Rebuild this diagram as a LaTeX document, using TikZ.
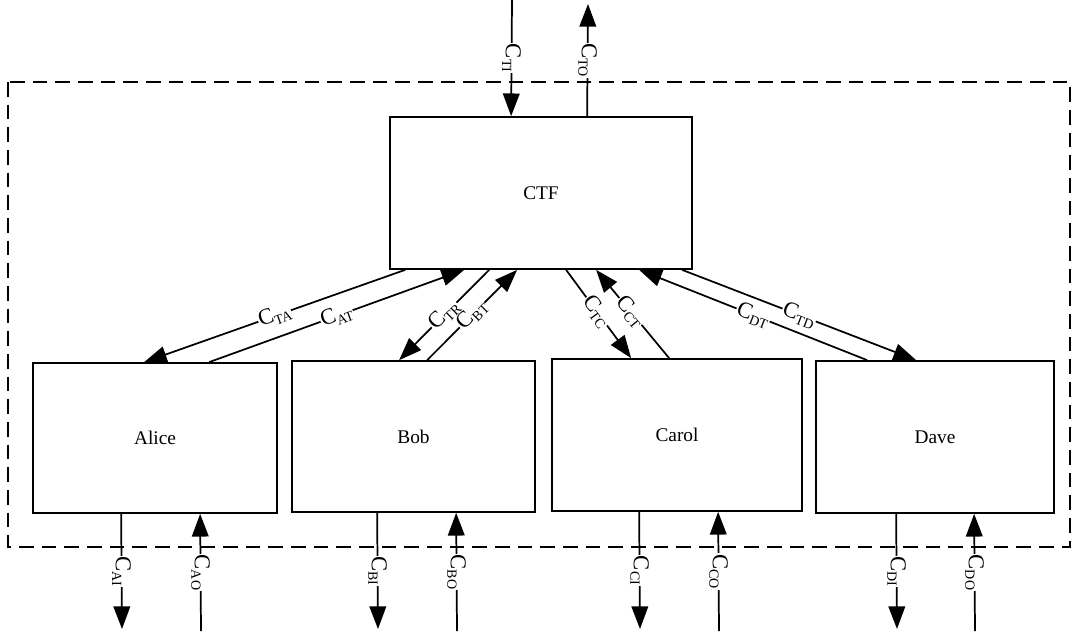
\documentclass[tikz,border=0pt]{standalone}
\usepackage{fontspec}
\setmainfont{Liberation Serif}
\usetikzlibrary{arrows.meta,calc}
\newcommand\clab[1]{C\raisebox{-0.35ex}{\fontsize{10.5}{10.5}\selectfont #1}}
\tikzset{
  box/.style={draw, line width=1.3pt, rectangle, inner sep=0pt, font=\fontsize{14.5}{16}\selectfont},
  conn/.style={line width=1.3pt, -{Triangle[length=17pt,width=12.5pt]}},
  lbl/.style={fill=white, inner sep=0.6pt, font=\fontsize{17}{17}\selectfont},
  vlbl/.style={lbl, rotate=-90},
}
\begin{document}
\begin{tikzpicture}[x=0.75pt,y=-0.75pt]
\useasboundingbox (0,0) rectangle (1075,637);
% frame
\draw[line width=1.2pt, dash pattern=on 11pt off 6pt] (8,82) rectangle (1070,547);
% boxes
\node[box, minimum width=226.5pt, minimum height=114pt] (ctf) at (541,193) {CTF};
\node[box, minimum width=183pt, minimum height=112.5pt] (alice) at (155,438) {Alice};
\node[box, minimum width=182.25pt, minimum height=113.25pt] (bob) at (413.5,436.5) {Bob};
\node[box, minimum width=187.5pt, minimum height=114pt] (carol) at (677,435) {Carol};
\node[box, minimum width=178.5pt, minimum height=114pt] (dave) at (935,437) {Dave};
% top external
\coordinate (tiS) at (512,0);
\coordinate (toE) at (588,4);
\draw[conn] (tiS) -- node[vlbl]{\clab{TI}} ($(ctf.north west)+(122,0)$);
\draw[conn] ($(ctf.north west)+(198,0)$) -- node[vlbl]{\clab{TO}} (toE);
% bottom external
\coordinate (aiE) at (122,629);
\coordinate (aoS) at (201,631);
\coordinate (biE) at (378,629);
\coordinate (boS) at (457,631);
\coordinate (ciE) at (640,629);
\coordinate (coS) at (719,631);
\coordinate (diE) at (897,629);
\coordinate (doS) at (975,631);
\draw[conn] ($(alice.south west)+(89,0)$) -- node[vlbl]{\clab{AI}} (aiE);
\draw[conn] (aoS) -- node[vlbl]{\clab{AO}} ($(alice.south west)+(168,0)$);
\draw[conn] ($(bob.south west)+(86,0)$) -- node[vlbl]{\clab{BI}} (biE);
\draw[conn] (boS) -- node[vlbl]{\clab{BO}} ($(bob.south west)+(165,0)$);
\draw[conn] ($(carol.south west)+(88,0)$) -- node[vlbl]{\clab{CI}} (ciE);
\draw[conn] (coS) -- node[vlbl]{\clab{CO}} ($(carol.south west)+(167,0)$);
\draw[conn] ($(dave.south west)+(81,0)$) -- node[vlbl]{\clab{DI}} (diE);
\draw[conn] (doS) -- node[vlbl]{\clab{DO}} ($(dave.south west)+(159,0)$);
% diagonals
\draw[conn] ($(ctf.south west)+(16,0)$) -- node[lbl,sloped]{\clab{TA}} ($(alice.north west)+(112,0)$);
\draw[conn] ($(alice.north west)+(177,0)$) -- node[lbl,sloped]{\clab{AT}} ($(ctf.south west)+(75,0)$);
\draw[conn] ($(ctf.south west)+(100,0)$) -- node[lbl,sloped]{\clab{TR}} ($(bob.north west)+(108,0)$);
\draw[conn] ($(bob.north west)+(136,0)$) -- node[lbl,sloped]{\clab{BT}} ($(ctf.south west)+(128,0)$);
\draw[conn] ($(ctf.south west)+(177,0)$) -- node[lbl,sloped,pos=0.47]{\clab{TC}} ($(carol.north west)+(80,0)$);
\draw[conn] ($(carol.north west)+(118,0)$) -- node[lbl,sloped,pos=0.53]{\clab{CT}} ($(ctf.south west)+(207,0)$);
\draw[conn] ($(dave.north west)+(52,0)$) -- node[lbl,sloped]{\clab{DT}} ($(ctf.south west)+(250,0)$);
\draw[conn] ($(ctf.south west)+(293,0)$) -- node[lbl,sloped]{\clab{TD}} ($(dave.north west)+(101,0)$);
\end{tikzpicture}
\end{document}
